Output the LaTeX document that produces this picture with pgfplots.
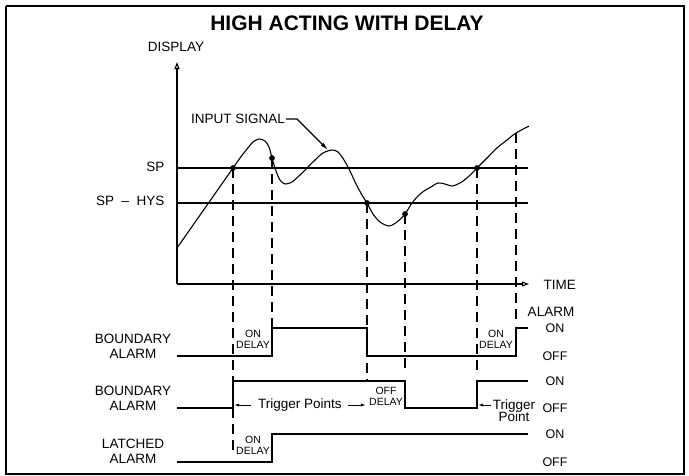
\documentclass[border=0pt]{standalone}
\usepackage{pgfplots}
\pgfplotsset{compat=1.18}
\usepackage{fontspec}
\setmainfont{Liberation Sans}
\usetikzlibrary{arrows.meta}
\newcommand{\lab}{\fontsize{13.5}{15}\selectfont}
\newcommand{\sml}{\fontsize{10.5}{11}\selectfont}
\newcommand{\onoff}{\fontsize{12.5}{14}\selectfont}
\begin{document}
\begin{tikzpicture}
\begin{axis}[
  width=689pt, height=475pt, scale only axis,
  xmin=0, xmax=689, ymin=0, ymax=475, y dir=reverse,
  hide axis, clip=false,
  cycle list={{black,solid,mark=none}},
  sl/.style={black, solid, mark=none, line width=1.1pt},
  dashedv/.style={line width=1.1pt, black, mark=none, dash pattern=on 10pt off 6pt},
]
% frame
\addplot[sl, line width=1.6pt] coordinates {(6,6) (684,6) (684,474) (6,474) (6,6)};
\addplot[draw=none, mark=none] coordinates {(0,0) (689,475)};
% axes
\addplot[sl, -{Triangle[open,length=7pt,width=5pt]}] coordinates {(177,284) (177,62)};
\addplot[sl, -{Triangle[open,length=7pt,width=5pt]}] coordinates {(177,284) (529,284)};
% SP and SP-HYS
\addplot[sl] coordinates {(177,168) (528,168)};
\addplot[sl] coordinates {(177,203) (528,203)};
% input signal
\addplot[sl, smooth] coordinates {
(177,248) (205,208) (233,168) (240,158) (247,149) (253,142) (259,139)
(265,141) (269,147) (272,158) (276,171) (280,180) (285,184) (292,182)
(300,175) (307,168) (315,160) (323,153) (332,150) (338,152) (344,160)
(350,171) (356,184) (362,195) (367,203) (373,214) (380,222) (389,226)
(397,222) (405,214) (412,203) (418,196) (424,191) (431,187) (438,183)
(445,184) (452,186) (460,183) (468,177) (477,168) (487,158) (497,148)
(507,140) (516,133) (529,126)};
\addplot[black, only marks, mark=*, mark size=2.6pt, mark options={fill=black}] coordinates {(233,168) (272,158) (367,203) (405,214) (477,168)};
% leader for INPUT SIGNAL
\addplot[sl, -{Latex[length=8pt,width=4pt]}] coordinates {(286,119) (297,119) (328,150)};
% dashed verticals
\addplot[dashedv] coordinates {(233,168) (233,453)};
\addplot[dashedv] coordinates {(272,158) (272,328)};
\addplot[dashedv] coordinates {(367,203) (367,381)};
\addplot[dashedv] coordinates {(405,214) (405,374)};
\addplot[dashedv] coordinates {(477,168) (477,371)};
\addplot[dashedv] coordinates {(516,133) (516,322)};
% timing lines
\addplot[sl] coordinates {(177,356) (272,356) (272,328) (367,328) (367,356) (516,356) (516,328) (528,328)};
\addplot[sl] coordinates {(177,408) (233,408) (233,381) (405,381) (405,408) (477,408) (477,381) (528,381)};
\addplot[sl] coordinates {(177,462) (272,462) (272,434) (528,434)};
% trigger arrows
\addplot[sl, -{Latex[length=5pt,width=3pt]}, line width=0.9pt] coordinates {(251,405) (234,405)};
\addplot[sl, -{Latex[length=5pt,width=3pt]}, line width=0.9pt] coordinates {(348,405) (366,405)};
\addplot[sl, -{Latex[length=5pt,width=3pt]}, line width=0.9pt] coordinates {(491,405) (478,405)};
% texts
\node[font=\bfseries\fontsize{21}{23}\selectfont] at (347,23) {HIGH ACTING WITH DELAY};
\node[font=\lab] at (176,47) {DISPLAY};
\node[font=\lab] at (238,119) {INPUT SIGNAL};
\node[font=\lab, anchor=east] at (168,167) {SP};
\node[font=\lab, anchor=east] at (168,201) {SP \ -- \ HYS};
\node[font=\lab, anchor=west] at (540,285) {TIME};
\node[font=\lab, align=center] at (133,346) {BOUNDARY\\ALARM};
\node[font=\lab, align=center] at (133,398) {BOUNDARY\\ALARM};
\node[font=\lab, align=center] at (133,451) {LATCHED\\ALARM};
\node[font=\lab] at (551,312) {ALARM};
\node[font=\onoff] at (555,328) {ON};
\node[font=\onoff] at (555,356) {OFF};
\node[font=\onoff] at (555,381) {ON};
\node[font=\onoff] at (555,408) {OFF};
\node[font=\onoff] at (555,434) {ON};
\node[font=\onoff] at (555,462) {OFF};
\node[font=\sml, align=center] at (253,339) {ON\\DELAY};
\node[font=\sml, align=center] at (496,339) {ON\\DELAY};
\node[font=\sml, align=center] at (386,396) {OFF\\DELAY};
\node[font=\sml, align=center] at (253,445) {ON\\DELAY};
\node[font=\lab] at (300,405) {Trigger Points};
\node[font=\lab, align=center] at (514,411) {Trigger\\[-3pt]Point};
\end{axis}
\end{tikzpicture}
\end{document}
